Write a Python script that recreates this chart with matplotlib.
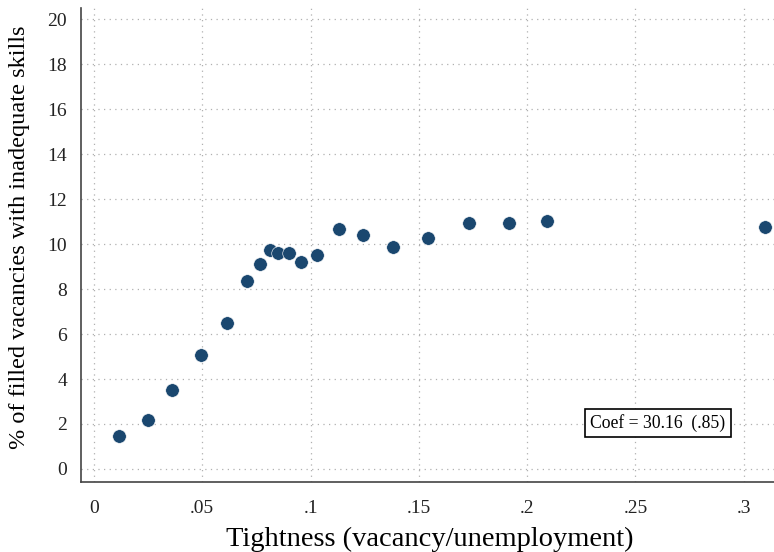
import numpy as np
from matplotlib import pyplot as plt

# binned scatter: tightness vs % of filled vacancies with inadequate skills
tightness = [0.0116, 0.025, 0.036, 0.0494, 0.0615, 0.0707, 0.0765, 0.0811, 0.085,
             0.0901, 0.0956, 0.103, 0.1131, 0.124, 0.1381, 0.1543, 0.1731, 0.1914,
             0.2091, 0.3098]
share_inadequate = [1.45, 2.19, 3.5, 5.07, 6.51, 8.37, 9.11, 9.76, 9.61,
                    9.61, 9.2, 9.5, 10.67, 10.41, 9.85, 10.25, 10.92, 10.96,
                    11.04, 10.77]
xticks = [0, 0.05, 0.1, 0.15, 0.2, 0.25, 0.3]
xticklabels = ["0", ".05", ".1", ".15", ".2", ".25", ".3"]
yticks = list(range(0, 21, 2))
coef_text = "Coef = 30.16  (.85)"

plt.rcParams['font.family'] = ['Liberation Serif', 'DejaVu Serif']

fig = plt.figure(figsize=(7.74, 5.52), dpi=100)
ax = fig.add_axes([0.1047, 0.1268, 0.8953, 0.8587])

ax.scatter(tightness, share_inadequate, s=95, color='#1a476f',
           edgecolors='white', linewidths=0.4, zorder=3)

ax.set_xlim(-0.006, 0.314)
ax.set_ylim(-0.58, 20.5)
ax.set_xticks(xticks)
ax.set_xticklabels(xticklabels)
ax.set_yticks(yticks)
ax.grid(True, linestyle=(0, (1, 3.5)), color='#b0b0b0', linewidth=0.9)
ax.set_axisbelow(True)
ax.tick_params(length=0, labelsize=14, colors='#222222')
ax.tick_params(axis='x', pad=13)
ax.tick_params(axis='y', pad=10)

for s in ['top', 'right']:
    ax.spines[s].set_visible(False)
for s in ['left', 'bottom']:
    ax.spines[s].set_color('#444444')
    ax.spines[s].set_linewidth(1.2)

ax.set_xlabel("Tightness (vacancy/unemployment)", fontsize=20.5)
ax.set_ylabel("% of filled vacancies with inadequate skills", fontsize=17.5)
ax.xaxis.set_label_coords(0.503, -0.094)
ax.yaxis.set_label_coords(-0.074, 0.517)

ax.text(0.2603, 2.04, coef_text, fontsize=12.7, ha='center', va='center',
        bbox=dict(boxstyle='square,pad=0.3', facecolor='white', edgecolor='black', linewidth=1.2),
        zorder=4)

fig.savefig("out.png", dpi=100)
